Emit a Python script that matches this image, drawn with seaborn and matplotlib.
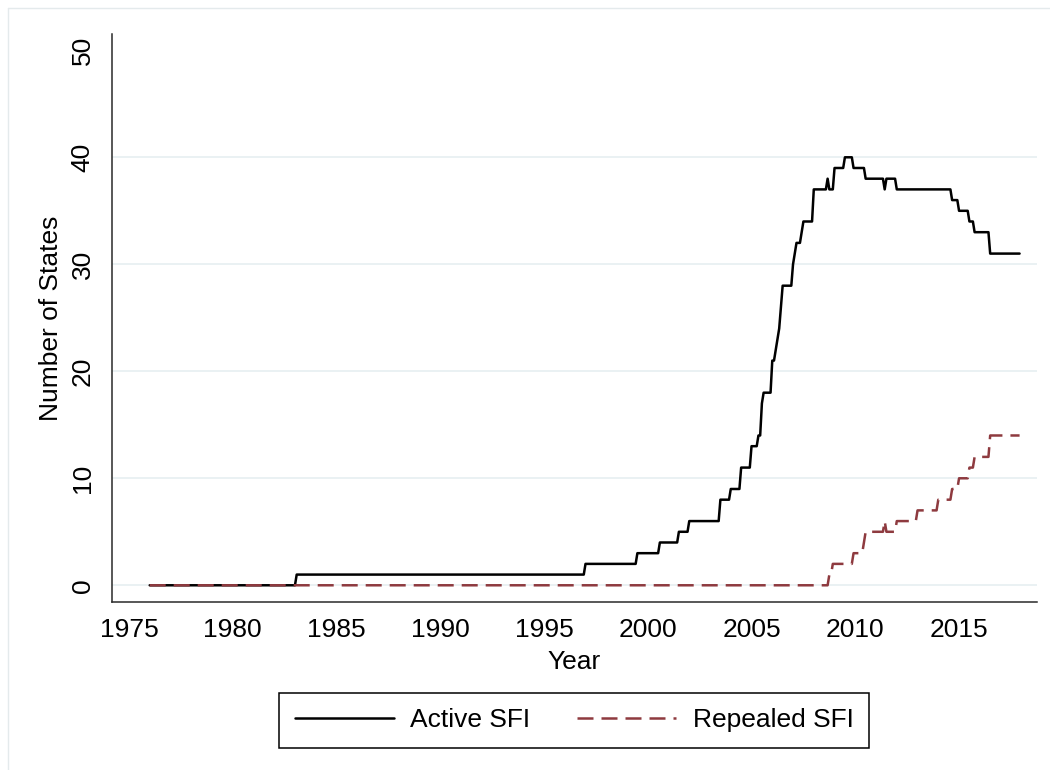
import numpy as np
import pandas as pd
import matplotlib
matplotlib.use("Agg")
import matplotlib.pyplot as plt
from matplotlib.lines import Line2D
import seaborn as sns

# Month in which each state count took effect; a count holds until the next change
active_months = ["1976-01", "1983-02", "1997-01", "1999-07", "2000-08", "2001-07",
                 "2002-01", "2003-07", "2004-01", "2004-07", "2005-01", "2005-05",
                 "2005-07", "2005-08", "2006-01", "2006-03", "2006-04", "2006-05",
                 "2006-06", "2006-07", "2007-01", "2007-02", "2007-03", "2007-06",
                 "2007-07", "2008-01", "2008-09", "2008-10", "2009-01", "2009-07",
                 "2009-12", "2010-07", "2011-06", "2011-07", "2012-01", "2014-09",
                 "2015-01", "2015-07", "2015-10", "2016-07"]
active_counts = [0, 1, 2, 3, 4, 5, 6, 8, 9, 11, 13, 14, 17, 18, 21, 22, 23, 24, 26, 28,
                 30, 31, 32, 33, 34, 37, 38, 37, 39, 40, 39, 38, 37, 38, 37, 36, 35, 34,
                 33, 31]

repealed_months = ["1976-01", "2008-10", "2008-12", "2009-12", "2010-06", "2010-07",
                   "2011-06", "2011-07", "2012-01", "2013-01", "2014-01", "2014-09",
                   "2015-01", "2015-07", "2015-10", "2016-07"]
repealed_counts = [0, 1, 2, 3, 4, 5, 6, 5, 6, 7, 8, 9, 10, 11, 12, 14]

period_start = "1976-01"
period_end = "2017-12"

series_names = ["Active SFI", "Repealed SFI"]
year_ticks = [1975, 1980, 1985, 1990, 1995, 2000, 2005, 2010, 2015]
count_ticks = [0, 10, 20, 30, 40, 50]

RED = "#8E3A3F"
GRID = "#EAF1F3"
AXIS = "#2A2A2A"
FS = 19


def monthly_counts(months, counts, name):
    idx = pd.period_range(period_start, period_end, freq="M")
    s = pd.Series(counts, index=pd.PeriodIndex(months, freq="M")).reindex(idx).ffill()
    return pd.DataFrame({
        "Year": idx.year + (idx.month - 1) / 12.0,
        "Number of States": s.values,
        "Series": name,
    })


df = pd.concat([
    monthly_counts(active_months, active_counts, series_names[0]),
    monthly_counts(repealed_months, repealed_counts, series_names[1]),
], ignore_index=True)

sns.set_style("white")
plt.rcParams["font.family"] = ["Liberation Sans", "DejaVu Sans"]
plt.rcParams["text.color"] = "black"
plt.rcParams["axes.labelcolor"] = "black"
plt.rcParams["xtick.color"] = "black"
plt.rcParams["ytick.color"] = "black"

fig = plt.figure(figsize=(10.5, 7.7), dpi=100)
ax = fig.add_axes([0.1064, 0.2178, 0.8809, 0.7380])

# light horizontal grid, skipping the top tick
for v in count_ticks[:-1]:
    ax.axhline(v, color=GRID, linewidth=1.4, zorder=0)

sns.lineplot(
    data=df, x="Year", y="Number of States",
    hue="Series", style="Series",
    palette={series_names[0]: "black", series_names[1]: RED},
    dashes={series_names[0]: "", series_names[1]: (6.4, 3.2)},
    linewidth=1.8, estimator=None, ax=ax, zorder=3,
)

ax.set_xlim(1974.17, 2018.74)
ax.set_ylim(-1.59, 51.52)
ax.set_xticks(year_ticks)
ax.set_yticks(count_ticks)

for side in ("top", "right"):
    ax.spines[side].set_visible(False)
for side in ("left", "bottom"):
    ax.spines[side].set_color(AXIS)
    ax.spines[side].set_linewidth(1.1)

ax.tick_params(axis="both", direction="out", length=7.2, width=1.0, color=AXIS,
               labelsize=FS, labelcolor="black", pad=4)
ax.tick_params(axis="y", labelrotation=90, pad=5)
for lab in ax.get_yticklabels():
    lab.set_va("center")

ax.set_xlabel("Year", fontsize=FS, color="black")
ax.set_ylabel("Number of States", fontsize=FS, color="black")
ax.xaxis.label.set_va("center")
ax.yaxis.label.set_va("center")
ax.xaxis.set_label_coords(0.5, -0.105)
ax.yaxis.set_label_coords(-0.0656, 0.5)

sns.move_legend(
    ax, "center", bbox_to_anchor=(0.5467, 0.0643), bbox_transform=fig.transFigure,
    ncol=2, title=None, frameon=True, fancybox=False, fontsize=FS,
    handlelength=3.75, handletextpad=0.64, columnspacing=1.75,
    borderpad=0.6, borderaxespad=0,
)
leg = ax.get_legend()
leg.get_frame().set_edgecolor("black")
leg.get_frame().set_linewidth(1.1)
leg.get_frame().set_alpha(1)
for t in leg.get_texts():
    t.set_color("black")
for h in leg.legend_handles:
    h.set_linewidth(1.8)

# faint outline of the graph region
fig.add_artist(Line2D([7.5 / 1050, 1.0], [1 - 7.5 / 770] * 2,
                      transform=fig.transFigure, color="#E4EAEC", linewidth=1.0))
fig.add_artist(Line2D([7.5 / 1050] * 2, [0.0, 1 - 7.5 / 770],
                      transform=fig.transFigure, color="#E4EAEC", linewidth=1.0))

fig.savefig("out.png", dpi=100, facecolor="white")
